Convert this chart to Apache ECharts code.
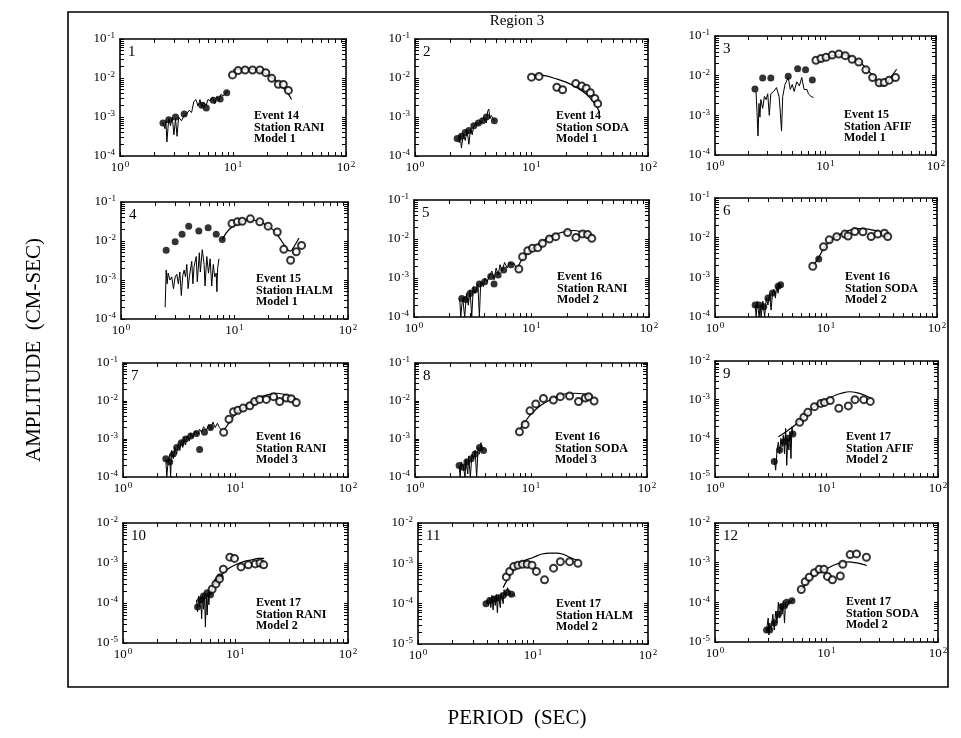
<!DOCTYPE html>
<html>
<head>
<meta charset="utf-8">
<script src="https://cdn.jsdelivr.net/npm/echarts@6/dist/echarts.min.js"></script>
<style>
  html, body { margin: 0; padding: 0; background: #fff; }
  #chart { width: 961px; height: 738px; }
</style>
</head>
<body>
<div id="chart"></div>
<script>
// ---- Spectral amplitude vs period, Region 3 ----
// Per panel: observed short-period trace, filled group-velocity points,
// open long-period points and the model curve.

const trace1 = [[2.4,7e-4],[2.5,5e-4],[2.55,8e-4],[2.6,2.3e-4],[2.7,9e-4],[2.8,6e-4],[2.9,1.0e-3],[3.0,3.5e-4],[3.1,9e-4],[3.2,3.2e-4],[3.3,1.0e-3],[3.5,8e-4],[3.7,1.1e-3],[3.9,1.2e-3],[4.1,1.5e-3],[4.3,1.3e-3],[4.5,2.5e-3],[4.7,2.8e-3],[4.9,1.9e-3],[5.1,2.8e-3],[5.3,1.8e-3],[5.5,2.4e-3],[5.8,2.0e-3],[6.0,2.8e-3],[6.3,2.6e-3],[6.6,3.2e-3],[6.9,2.2e-3],[7.2,3.4e-3],[7.5,2.6e-3],[7.8,3.8e-3],[8.2,3.5e-3],[8.6,4.2e-3],[9.0,4.5e-3]];
const dots1 = [[2.4,7e-4],[2.7,8.5e-4],[3.1,1.0e-3],[3.7,1.2e-3],[5.3,2.0e-3],[5.8,1.7e-3],[6.7,2.7e-3],[7.7,2.9e-3],[8.8,4.2e-3]];
const open1 = [[9.9,0.012],[11.1,0.0155],[12.8,0.016],[14.9,0.016],[17.3,0.016],[19.5,0.0137],[22,0.0098],[25.2,0.0069],[27.9,0.0068],[30.9,0.0048]];
const model1 = [[10,0.016],[12,0.017],[14,0.017],[17,0.0155],[20,0.0125],[24,0.0085],[28,0.0055],[31,0.0038],[33,0.0028]];

const trace2 = [[2.3,2.8e-4],[2.4,2.2e-4],[2.45,3.5e-4],[2.5,1.6e-4],[2.6,3.5e-4],[2.7,2.5e-4],[2.8,4.5e-4],[2.9,2.0e-4],[3.0,5e-4],[3.1,3.5e-4],[3.2,6e-4],[3.4,7e-4],[3.6,6.5e-4],[3.8,8e-4],[3.9,1.0e-3],[4.0,1.1e-3],[4.1,7e-4],[4.2,1.4e-3],[4.3,1.6e-3],[4.4,9e-4],[4.5,1.1e-3],[4.6,1.2e-3],[4.8,8e-4]];
const dots2 = [[2.3,2.8e-4],[2.5,3.2e-4],[2.7,4e-4],[2.9,4.5e-4],[3.2,6e-4],[3.5,7e-4],[3.8,8e-4],[4.1,1.0e-3],[4.8,8e-4]];
const open2 = [[10,0.0105],[11.6,0.011],[16.5,0.0058],[18.5,0.005],[24,0.0072],[27,0.0062],[29.5,0.0055],[32,0.0042],[35,0.003],[37,0.0022]];
const model2 = [[10.5,0.012],[13,0.0115],[16,0.0097],[20,0.0077],[25,0.0055],[30,0.0037],[35,0.0022],[38.5,0.0013]];

const trace3 = [[2.35,0.004],[2.4,0.0012],[2.45,0.0003],[2.5,0.002],[2.55,0.0009],[2.6,0.0025],[2.7,0.0015],[2.8,0.003],[2.9,0.0025],[3.0,0.0035],[3.1,0.001],[3.2,0.0035],[3.4,0.004],[3.6,0.005],[3.8,0.003],[3.9,0.0012],[4.0,0.0004],[4.1,0.003],[4.3,0.006],[4.6,0.009],[4.8,0.0045],[5.0,0.006],[5.2,0.004],[5.5,0.007],[5.8,0.0055],[6.1,0.009],[6.4,0.0045],[6.8,0.0045],[7.0,0.0035],[7.4,0.003],[7.8,0.0028]];
const dots3 = [[2.3,0.0046],[2.7,0.0087],[3.2,0.0087],[4.6,0.0096],[5.6,0.015],[6.6,0.014],[7.6,0.0078]];
const open3 = [[8.2,0.0245],[9.1,0.027],[10.1,0.029],[11.5,0.033],[13.2,0.035],[15.1,0.032],[17.4,0.026],[20,0.022],[23.2,0.014],[26.7,0.009],[30.6,0.0066],[34,0.0067],[37.7,0.0077],[43,0.009]];
const model3 = [[8.5,0.022],[10,0.028],[12,0.033],[14,0.034],[17,0.03],[20,0.023],[24,0.014],[28,0.0085],[31,0.0058],[33,0.0055],[36,0.0068],[40,0.01],[44,0.0145]];

const trace4 = [[2.45,0.0002],[2.5,0.0018],[2.55,0.0008],[2.6,0.0015],[2.7,0.001],[2.8,0.0012],[2.9,0.0006],[3.0,0.0012],[3.1,0.0014],[3.2,0.0008],[3.3,0.0016],[3.4,0.0004],[3.5,0.0013],[3.6,0.0018],[3.7,0.0012],[3.8,0.0025],[3.9,0.0006],[4.0,0.0012],[4.2,0.003],[4.3,0.0008],[4.4,0.0022],[4.6,0.004],[4.7,0.0009],[4.9,0.005],[5.0,0.0016],[5.2,0.006],[5.4,0.0025],[5.5,0.0007],[5.7,0.004],[5.9,0.0015],[6.1,0.0035],[6.3,0.0007],[6.5,0.0025],[6.7,0.0012],[6.9,0.0015],[7.0,0.0005],[7.1,0.002],[7.3,0.0035]];
const dots4 = [[2.5,0.0058],[3.0,0.0096],[3.45,0.015],[3.95,0.024],[4.85,0.018],[5.86,0.022],[6.9,0.015],[7.8,0.011]];
const open4 = [[9.5,0.028],[10.6,0.031],[11.7,0.032],[13.8,0.037],[16.7,0.031],[19.8,0.024],[23.8,0.017],[27.2,0.0061],[31.2,0.0032],[35,0.0053],[39,0.0077]];
const model4 = [[7.8,0.011],[9,0.02],[11,0.03],[13,0.035],[15,0.034],[18,0.028],[22,0.019],[26,0.01],[29,0.0062],[31,0.0055],[34,0.0078],[37,0.012]];

const trace5 = [[2.45,0.0003],[2.5,0.0001],[2.55,0.0002],[2.6,0.0003],[2.7,0.0001],[2.8,0.0004],[2.9,0.0002],[3.0,0.0005],[3.1,0.0001],[3.2,0.0006],[3.3,0.0004],[3.5,0.0007],[3.6,0.0001],[3.7,0.0008],[3.9,0.0006],[4.0,0.001],[4.2,0.0008],[4.4,0.0012],[4.6,0.0015],[4.8,0.0009],[5.0,0.0018],[5.2,0.0012],[5.4,0.0022],[5.6,0.0015],[5.9,0.0025],[6.2,0.0018],[6.5,0.0026],[6.8,0.0022],[7.1,0.0024],[7.4,0.0018],[7.6,0.0016]];
const dots5 = [[2.55,0.0003],[2.75,0.00028],[3.0,0.0004],[3.3,0.0005],[3.6,0.0007],[4.0,0.0008],[4.5,0.0011],[4.8,0.0007],[5.2,0.0012],[5.8,0.0016],[6.7,0.0022]];
const open5 = [[7.8,0.0017],[8.4,0.0035],[9.3,0.005],[10.2,0.0058],[11.3,0.006],[12.4,0.0078],[14.2,0.01],[16.1,0.0115],[20.3,0.0146],[23.9,0.011],[27.2,0.0135],[30,0.013],[32.6,0.0104]];
const model5 = [[7.6,0.0016],[8,0.0025],[9,0.004],[10,0.0055],[12,0.008],[14,0.011],[17,0.014],[20,0.016],[23,0.0165],[27,0.015],[31,0.013],[34,0.011]];

const trace6 = [[2.3,0.0002],[2.35,0.0001],[2.4,0.00025],[2.5,0.0001],[2.55,0.0002],[2.6,0.0001],[2.7,0.00025],[2.8,0.0001],[2.9,0.0003],[3.0,0.0002],[3.1,0.0004],[3.2,0.00015],[3.3,0.0004],[3.4,0.0005],[3.5,0.0003],[3.6,0.0006],[3.7,0.0004],[3.8,0.0007],[3.9,0.0006]];
const dots6 = [[2.3,0.0002],[2.5,0.0002],[2.75,0.00018],[3.0,0.0003],[3.3,0.0004],[3.7,0.0006],[3.9,0.00065],[8.6,0.0029]];
const open6 = [[7.6,0.0019],[9.5,0.0059],[10.7,0.0088],[12.5,0.0106],[14.8,0.0123],[15.8,0.011],[18.2,0.0143],[21.5,0.014],[25.5,0.0107],[29.3,0.0123],[33.6,0.013],[36,0.0107]];
const model6 = [[7.6,0.0019],[8.5,0.003],[10,0.0065],[12,0.01],[14,0.013],[17,0.016],[20,0.017],[24,0.0165],[28,0.015],[32,0.013],[36,0.011]];

const trace7 = [[2.4,0.0003],[2.45,0.0001],[2.5,0.0002],[2.6,0.0004],[2.65,0.0001],[2.7,0.0005],[2.8,0.0003],[2.9,0.0006],[3.0,0.0004],[3.1,0.0008],[3.2,0.0005],[3.3,0.0009],[3.4,0.0006],[3.5,0.0011],[3.6,0.0007],[3.7,0.0012],[3.9,0.0009],[4.0,0.0014],[4.2,0.0011],[4.4,0.0016],[4.6,0.0013],[4.8,0.0018],[5.0,0.0015],[5.2,0.0021],[5.5,0.0017],[5.8,0.0024],[6.0,0.0018],[6.3,0.0028],[6.6,0.002],[6.9,0.0026],[7.2,0.002],[7.5,0.0017]];
const dots7 = [[2.4,0.0003],[2.6,0.00025],[2.8,0.0004],[3.0,0.0006],[3.3,0.0008],[3.6,0.001],[4.0,0.0012],[4.5,0.0014],[4.8,0.00053],[5.3,0.0015],[6.0,0.002]];
const open7 = [[7.85,0.0015],[8.75,0.0033],[9.6,0.0052],[10.5,0.0057],[11.7,0.0065],[13.4,0.0075],[14.8,0.0097],[16.4,0.011],[18.8,0.011],[21.8,0.013],[24.7,0.0097],[28.3,0.012],[31.3,0.0115],[34.7,0.0091]];
const model7 = [[7.8,0.0016],[9,0.003],[10,0.0045],[12,0.007],[14,0.0095],[17,0.013],[20,0.015],[23,0.016],[27,0.015],[31,0.0135],[35,0.011]];

const trace8 = [[2.4,0.0002],[2.45,0.0001],[2.5,0.00025],[2.6,0.0002],[2.7,0.0001],[2.75,0.0003],[2.85,0.00012],[2.9,0.00035],[3.0,0.0001],[3.1,0.0004],[3.2,0.0003],[3.3,0.0005],[3.4,0.0001],[3.5,0.0006],[3.6,0.0004],[3.7,0.0008],[3.8,0.0005],[3.9,0.0006]];
const dots8 = [[2.4,0.0002],[2.6,0.00018],[2.8,0.00025],[3.05,0.0003],[3.3,0.0004],[3.6,0.0006],[3.9,0.0005]];
const open8 = [[7.95,0.00155],[8.9,0.0024],[9.8,0.0055],[11,0.0084],[12.8,0.0117],[15.6,0.0106],[17.9,0.013],[21.5,0.0135],[25.7,0.0097],[29.4,0.012],[31.4,0.013],[35,0.01]];
const model8 = [[7.9,0.0017],[9,0.003],[10,0.0045],[12,0.0075],[14,0.01],[17,0.0135],[20,0.0155],[24,0.016],[28,0.0155],[32,0.0145],[34,0.0135]];

const trace9 = [[3.4,0.00003],[3.5,0.000015],[3.6,0.00005],[3.7,0.00008],[3.8,0.00004],[3.9,0.0001],[4.0,0.00006],[4.1,0.00012],[4.2,0.00004],[4.3,0.00018],[4.4,0.00002],[4.5,0.0001],[4.6,0.00005],[4.7,0.00015],[4.8,0.00003],[4.9,0.0002],[5.0,0.00012]];
const dots9 = [[3.4,0.000025],[3.8,0.00005],[4.2,0.00008],[4.5,0.0001],[5.0,0.00013]];
const open9 = [[5.74,0.00026],[6.27,0.00035],[6.8,0.00047],[7.8,0.00066],[8.9,0.0008],[9.6,0.00085],[10.8,0.00095],[12.9,0.0006],[15.7,0.00069],[18,0.001],[21.6,0.001],[24.7,0.0009]];
const model9 = [[3.7,0.00011],[4.5,0.00016],[5.5,0.00025],[6.5,0.0004],[7.5,0.0006],[8.5,0.0008],[10,0.001],[12,0.0013],[14,0.0015],[16,0.0016],[19,0.0015],[22,0.0013],[25,0.0011]];

const trace10 = [[4.5,0.00012],[4.6,0.00006],[4.7,0.00015],[4.8,0.00008],[4.9,0.00014],[5.0,0.00004],[5.1,0.00016],[5.2,0.00007],[5.3,0.00018],[5.4,0.000025],[5.5,0.00015],[5.6,0.00005],[5.7,0.00017],[5.8,0.00009],[5.9,0.0002],[6.0,0.00016],[6.2,0.00022]];
const dots10 = [[4.6,0.00008],[4.9,0.00012],[5.2,0.00015],[5.6,0.00018],[6.0,0.00016],[6.9,0.00035],[7.3,0.00045]];
const open10 = [[6.2,0.00022],[6.7,0.0003],[7.2,0.0004],[7.8,0.0007],[8.9,0.0014],[9.8,0.0013],[11.2,0.0008],[13,0.0009],[15,0.00095],[16.5,0.001],[17.8,0.0009]];
const model10 = [[5.8,0.00015],[6.5,0.0003],[7.5,0.0005],[8.5,0.0007],[10,0.0009],[12,0.0011],[14,0.0012],[16,0.0013],[18,0.0013]];

const trace11 = [[3.9,0.0001],[4.0,0.00012],[4.1,0.00009],[4.2,0.00014],[4.3,0.00008],[4.4,0.00016],[4.5,0.00007],[4.6,0.00015],[4.7,0.00009],[4.8,0.00017],[4.9,0.00006],[5.0,0.00016],[5.2,0.00008],[5.3,0.00018],[5.5,0.0001],[5.6,0.00022],[5.8,0.00015],[6.0,0.00025],[6.2,0.00018],[6.5,0.00016],[6.8,0.00018],[7.0,0.00015]];
const dots11 = [[3.9,0.0001],[4.2,0.00012],[4.6,0.00013],[5.0,0.00014],[5.5,0.00016],[6.0,0.00019],[6.5,0.00017]];
const open11 = [[5.86,0.00046],[6.27,0.00063],[6.79,0.00083],[7.4,0.0009],[8.1,0.00095],[8.9,0.00095],[9.8,0.0009],[10.7,0.00063],[12.6,0.00039],[15.1,0.00076],[17.3,0.0011],[20.8,0.0011],[24.6,0.001]];
const model11 = [[5.5,0.00025],[6,0.0004],[7,0.0008],[8,0.0011],[10,0.0014],[12,0.0017],[14,0.0018],[16,0.0018],[18,0.0017],[21,0.0014],[24,0.0012]];

const trace12 = [[2.9,0.00002],[3.0,0.00004],[3.05,0.000015],[3.1,0.00003],[3.2,0.00002],[3.3,0.00005],[3.4,0.00002],[3.5,0.00006],[3.6,0.00003],[3.7,0.0001],[3.8,0.00004],[3.9,0.00009],[4.0,0.00005],[4.1,0.00011],[4.2,0.00003],[4.3,0.0001],[4.4,0.00007],[4.6,0.00011],[4.8,0.0001],[5.0,0.00012]];
const dots12 = [[2.9,0.00002],[3.1,0.00002],[3.4,0.00003],[3.7,0.00005],[4.0,0.00008],[4.4,0.0001],[4.9,0.00011]];
const open12 = [[5.94,0.00021],[6.44,0.00033],[7.0,0.00043],[7.8,0.00056],[8.6,0.00068],[9.5,0.00068],[10.2,0.00045],[11.3,0.00037],[13.3,0.00046],[14,0.00091],[16.3,0.0016],[18.6,0.00166],[22.8,0.00137]];
const model12 = [[5.8,0.0002],[7,0.00035],[8,0.0005],[10,0.0007],[12,0.0009],[14,0.001],[16,0.00105],[18,0.001],[20,0.00095],[23,0.00085]];

// Panel captions
const events   = [14, 14, 15, 15, 16, 16, 16, 16, 17, 17, 17, 17];
const stations = ['RANI', 'SODA', 'AFIF', 'HALM', 'RANI', 'SODA', 'RANI', 'SODA', 'AFIF', 'RANI', 'HALM', 'SODA'];
const modelNos = [1, 1, 1, 1, 2, 2, 3, 3, 2, 2, 2, 2];

// Axis ranges and tick values
const xRange = [1, 100];
const xLabelValues = [1, 10, 100];
const xTickValues = [1, 2, 3, 4, 5, 6, 7, 8, 9, 10, 20, 30, 40, 50, 60, 70, 80, 90, 100];
const yRangeHigh = [1e-4, 1e-1];
const yRangeLow = [1e-5, 1e-2];
const yLabelsHigh = [1e-4, 1e-3, 1e-2, 1e-1];
const yLabelsLow = [1e-5, 1e-4, 1e-3, 1e-2];
const panelRangeKind = ['high','high','high','high','high','high','high','high','low','low','low','low'];

const traces = [trace1, trace2, trace3, trace4, trace5, trace6, trace7, trace8, trace9, trace10, trace11, trace12];
const dotSets = [dots1, dots2, dots3, dots4, dots5, dots6, dots7, dots8, dots9, dots10, dots11, dots12];
const openSets = [open1, open2, open3, open4, open5, open6, open7, open8, open9, open10, open11, open12];
const models = [model1, model2, model3, model4, model5, model6, model7, model8, model9, model10, model11, model12];

// Plot-area rectangles [left, top, right, bottom] in pixels
const boxes = [
  [120, 39, 346, 156], [415, 39, 648, 156], [715, 36, 936, 155],
  [121, 202, 348, 319], [414, 200, 649, 317], [715, 198, 937, 317],
  [123, 363, 348, 477], [415, 363, 647, 477], [715, 361, 938, 477],
  [123, 523, 348, 643], [418, 523, 648, 644], [715, 523, 938, 642]
];

const FONT = "'Liberation Serif', 'DejaVu Serif', serif";
const INK = '#000';

function minorTicks(majors) {
  const out = [];
  for (let i = 0; i < majors.length - 1; i++) {
    for (let m = 1; m <= 9; m++) out.push(majors[i] * m);
  }
  out.push(majors[majors.length - 1]);
  return out;
}

function powLabel(v) {
  const e = Math.round(Math.log10(v));
  return '{b|10}{s|' + e + '}';
}

const labelRich = {
  b: { fontFamily: FONT, fontSize: 13, color: INK, lineHeight: 15 },
  s: { fontFamily: FONT, fontSize: 9, color: INK, verticalAlign: 'top', lineHeight: 15, padding: [0, 0, 6, 1] }
};

const grids = [], xAxes = [], yAxes = [], series = [], graphics = [];

boxes.forEach((b, i) => {
  const [l, t, r, btm] = b;
  grids.push({ left: l, top: t, width: r - l, height: btm - t, show: false });
  const yr = panelRangeKind[i] === 'high' ? yRangeHigh : yRangeLow;
  const yl = panelRangeKind[i] === 'high' ? yLabelsHigh : yLabelsLow;
  const yt = minorTicks(yl);
  const line = { show: true, lineStyle: { color: INK, width: 1.6 } };
  const tick = (vals) => ({ show: true, inside: true, length: 4, customValues: vals, lineStyle: { color: INK, width: 1 } });

  xAxes.push({
    type: 'log', logBase: 10, gridIndex: i, min: xRange[0], max: xRange[1], position: 'bottom',
    axisLine: line, axisTick: tick(xTickValues), splitLine: { show: false },
    axisLabel: { show: true, customValues: xLabelValues, formatter: powLabel, rich: labelRich, margin: 4 }
  });
  xAxes.push({
    type: 'log', logBase: 10, gridIndex: i, min: xRange[0], max: xRange[1], position: 'top',
    axisLine: line, axisTick: tick(xTickValues), splitLine: { show: false }, axisLabel: { show: false }
  });
  yAxes.push({
    type: 'log', logBase: 10, gridIndex: i, min: yr[0], max: yr[1], position: 'left',
    axisLine: line, axisTick: tick(yt), splitLine: { show: false },
    axisLabel: { show: true, customValues: yl, formatter: powLabel, rich: labelRich, margin: 5 }
  });
  yAxes.push({
    type: 'log', logBase: 10, gridIndex: i, min: yr[0], max: yr[1], position: 'right',
    axisLine: line, axisTick: tick(yt), splitLine: { show: false }, axisLabel: { show: false }
  });

  const xi = 2 * i, yi = 2 * i;
  series.push({
    type: 'line', xAxisIndex: xi, yAxisIndex: yi, data: traces[i], showSymbol: false,
    lineStyle: { color: INK, width: 1 }, silent: true, z: 2
  });
  series.push({
    type: 'scatter', xAxisIndex: xi, yAxisIndex: yi, data: dotSets[i], symbol: 'circle', symbolSize: 7,
    itemStyle: { color: INK }, silent: true, z: 3
  });
  series.push({
    type: 'scatter', xAxisIndex: xi, yAxisIndex: yi, data: openSets[i], symbol: 'emptyCircle', symbolSize: 7,
    itemStyle: { color: INK, borderColor: INK, borderWidth: 1.1 }, silent: true, z: 3
  });
  series.push({
    type: 'line', xAxisIndex: xi, yAxisIndex: yi, data: models[i], showSymbol: false, smooth: 0.4,
    lineStyle: { color: INK, width: 1.2 }, silent: true, z: 2
  });

  // panel number
  graphics.push({
    type: 'text', left: l + 8, top: t + 6,
    style: { text: String(i + 1), font: '15px ' + FONT, fill: INK }
  });
  // caption block
  graphics.push({
    type: 'text', left: r - 92, top: btm - 46,
    style: {
      text: 'Event ' + events[i] + '\nStation ' + stations[i] + '\nModel ' + modelNos[i],
      font: 'bold 12px ' + FONT, fill: INK, lineHeight: 11.5
    }
  });
});

// Outer frame and titles
graphics.push({
  type: 'rect', shape: { x: 68, y: 12, width: 880, height: 675 },
  style: { fill: 'none', stroke: INK, lineWidth: 1.6 }, z: 10
});
graphics.push({
  type: 'text', x: 517, y: 21,
  style: { text: 'Region 3', font: '15px ' + FONT, fill: INK, textAlign: 'center', textVerticalAlign: 'middle' }
});
graphics.push({
  type: 'text', x: 517, y: 718,
  style: { text: 'PERIOD  (SEC)', font: '21px ' + FONT, fill: INK, textAlign: 'center', textVerticalAlign: 'middle' }
});
graphics.push({
  type: 'text', x: 34, y: 350, rotation: Math.PI / 2,
  style: { text: 'AMPLITUDE  (CM-SEC)', font: '21px ' + FONT, fill: INK, textAlign: 'center', textVerticalAlign: 'middle' }
});

const chart = echarts.init(document.getElementById('chart'), null, { renderer: 'canvas' });
chart.setOption({
  backgroundColor: '#fff',
  animation: false,
  grid: grids,
  xAxis: xAxes,
  yAxis: yAxes,
  series: series,
  graphic: graphics
});
</script>
</body>
</html>
